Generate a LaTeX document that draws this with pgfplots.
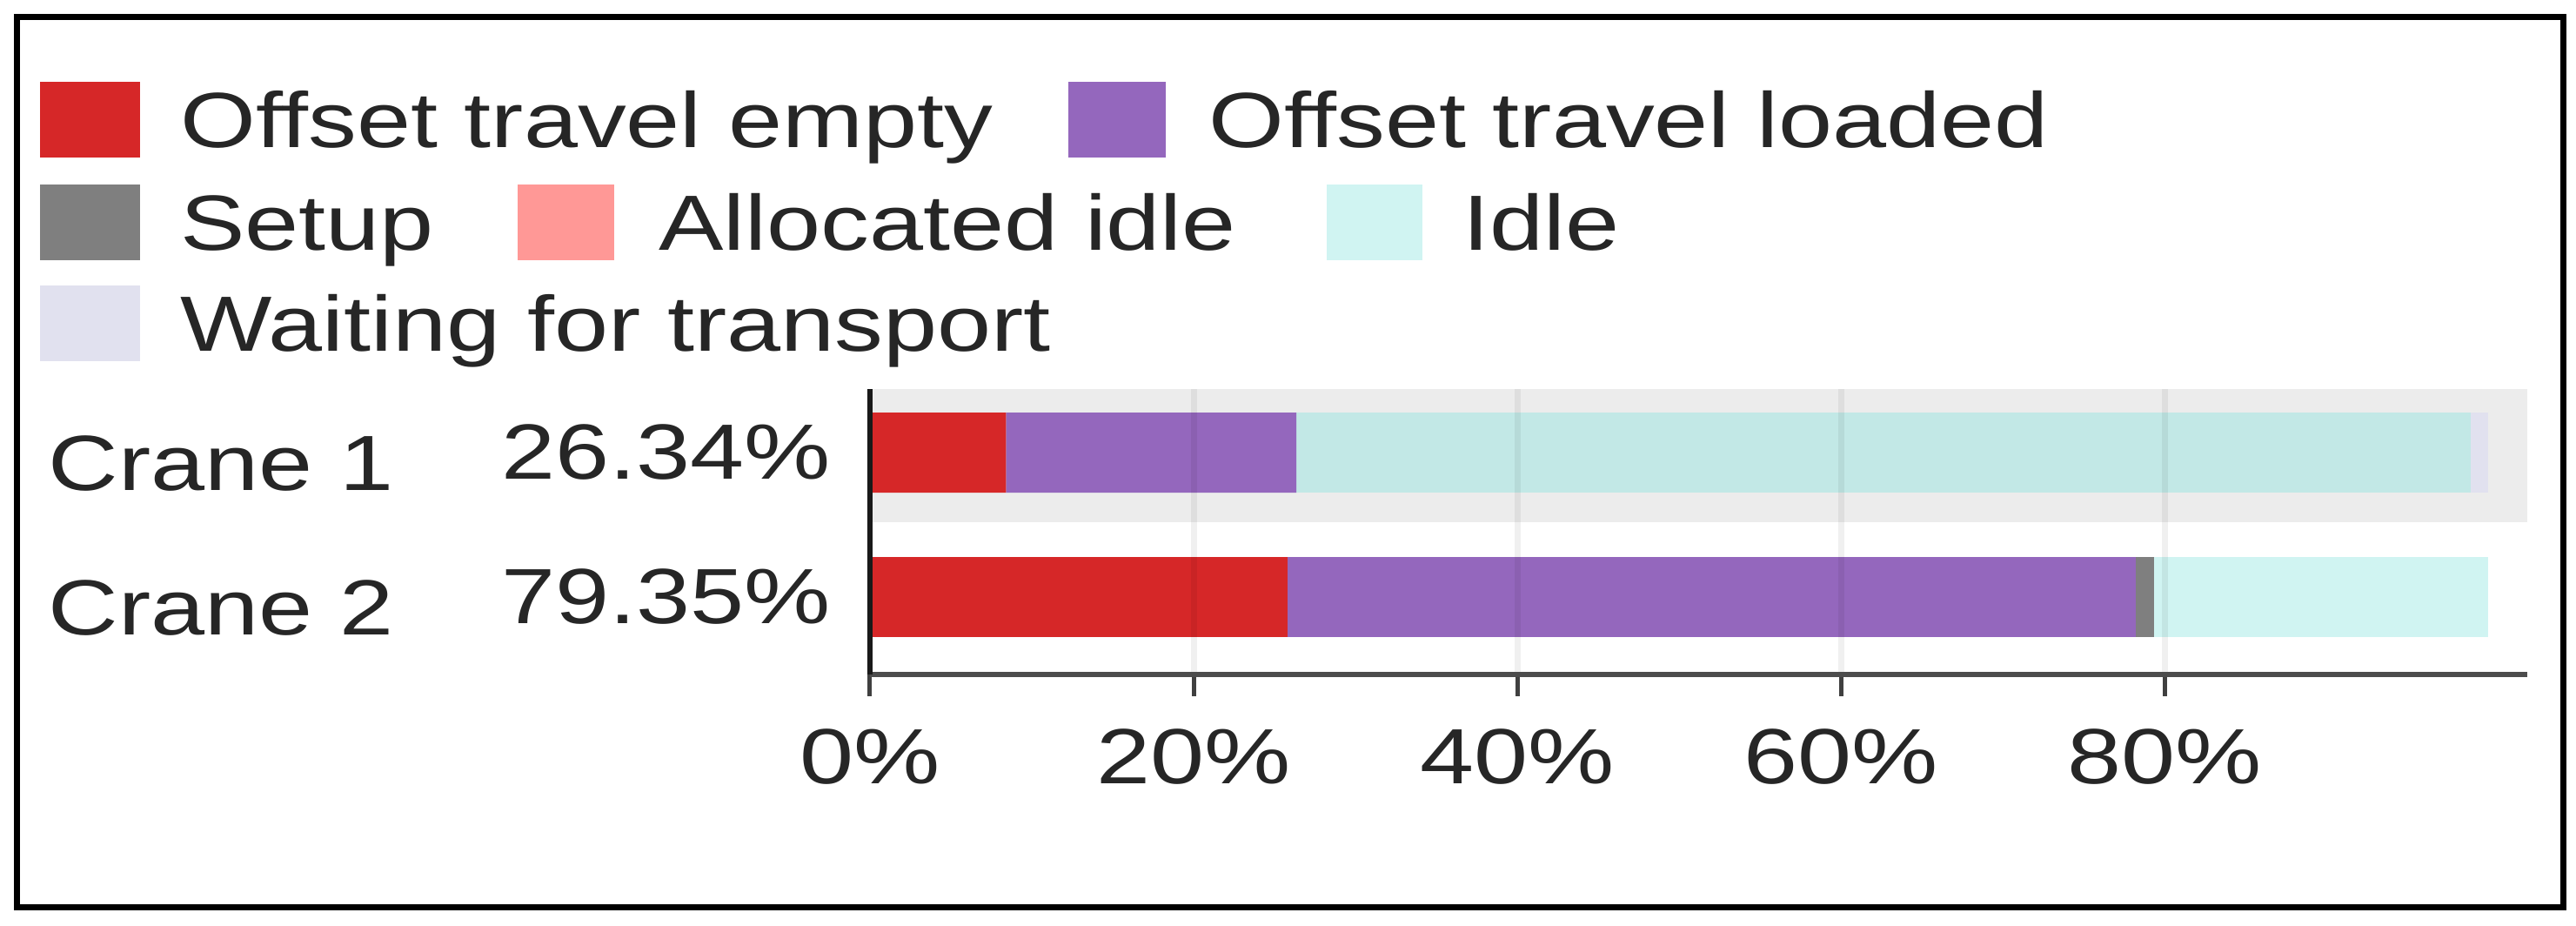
\documentclass[border=0pt]{standalone}
\usepackage{pgfplots}
\pgfplotsset{compat=1.18}
\usepackage{fontspec}
\setmainfont{Liberation Sans}[FakeStretch=1.24]

\definecolor{cEmpty}{HTML}{D62728}
\definecolor{cLoaded}{HTML}{9467BD}
\definecolor{cSetup}{HTML}{7F7F7F}
\definecolor{cAlloc}{HTML}{FF9896}
\definecolor{cIdle}{HTML}{D0F4F2}
\definecolor{cIdleSel}{HTML}{C2E8E6}
\definecolor{cWait}{HTML}{E1E1EF}
\definecolor{cBand}{HTML}{ECECEC}
\definecolor{txt}{HTML}{262626}

\begin{document}
\begin{tikzpicture}[font=\fontsize{12.8}{15}\selectfont, text=txt]
\useasboundingbox (0,0) rectangle (14.805,-5.32);
\draw[line width=0.035cm] (0.0975,-0.1) rectangle (14.73,-5.2125);

% legend (flow layout, three rows)
\fill[cEmpty]  (0.23,-0.4725) rectangle (0.805,-0.9075);
\node[anchor=base west, inner sep=0] at (1.03,-0.85) {Offset travel empty};
\fill[cLoaded] (6.14,-0.4725) rectangle (6.70,-0.9075);
\node[anchor=base west, inner sep=0] at (6.94,-0.85) {Offset travel loaded};
\fill[cSetup]  (0.23,-1.0625) rectangle (0.805,-1.4975);
\node[anchor=base west, inner sep=0] at (1.03,-1.44) {Setup};
\fill[cAlloc]  (2.975,-1.0625) rectangle (3.53,-1.4975);
\node[anchor=base west, inner sep=0] at (3.78,-1.44) {Allocated idle};
\fill[cIdle]   (7.625,-1.0625) rectangle (8.175,-1.4975);
\node[anchor=base west, inner sep=0] at (8.40,-1.44) {Idle};
\fill[cWait]   (0.23,-1.6425) rectangle (0.805,-2.0775);
\node[anchor=base west, inner sep=0] at (1.03,-2.02) {Waiting for transport};

% highlight band behind the Crane 1 row
\fill[cBand] (5.0,-2.235) rectangle (14.525,-3.0);

\begin{axis}[
  at={(5.0cm,-3.875cm)}, anchor=south west,
  scale only axis, width=9.525cm, height=1.64cm,
  xbar stacked, bar width=0.554,
  xmin=0, xmax=102.4, ymin=-0.536, ymax=1.44,
  enlargelimits=false,
  axis x line*=bottom, axis y line*=left,
  x axis line style={black!70, line width=0.03cm},
  y axis line style={black!90, line width=0.03cm},
  xtick={0,20,40,60,80},
  xticklabels={0\%,20\%,40\%,60\%,80\%},
  ytick={0,1},
  yticklabels={
    \makebox[4.495cm]{\raisebox{-0.065cm}[0pt][0pt]{Crane 2}\hfill 79.35\%},
    \makebox[4.495cm]{\raisebox{-0.065cm}[0pt][0pt]{Crane 1}\hfill 26.34\%}},
  tick align=outside, major tick length=0.125cm,
  xtick style={black!75, line width=0.025cm},
  ytick style={draw=none},
  xmajorgrids, grid style={black, opacity=0.06, line width=0.035cm},
  axis on top,
  tick label style={font=\fontsize{12.8}{15}\selectfont, text=txt},
  xticklabel style={inner sep=0pt, yshift=-0.18cm},
  yticklabel style={inner sep=0pt, xshift=-0.095cm},
]
\addplot[fill=cEmpty, draw=none]   coordinates {(8.4,1) (25.8,0)};
\addplot[fill=cLoaded, draw=none]  coordinates {(17.94,1) (52.4,0)};
\addplot[fill=cSetup, draw=none]   coordinates {(0,1) (1.15,0)};
\addplot[fill=cAlloc, draw=none]   coordinates {(0,1) (0,0)};
\addplot[fill=cIdleSel, draw=none] coordinates {(72.56,1) (0,0)};
\addplot[fill=cIdle, draw=none]    coordinates {(0,1) (20.65,0)};
\addplot[fill=cWait, draw=none]    coordinates {(1.1,1) (0,0)};
\end{axis}
\end{tikzpicture}
\end{document}
